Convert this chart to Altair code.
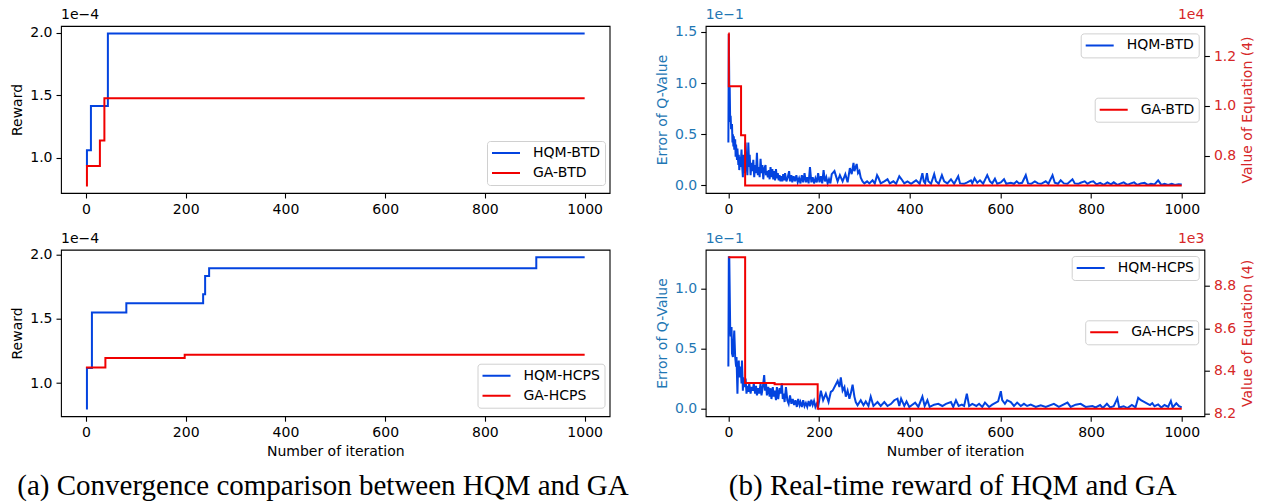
import altair as alt
import pandas as pd

BLUE = '#0343df'
RED = '#f00000'
TAB_BLUE = '#1f77b4'
TAB_RED = '#d62728'
FONT = 'DejaVu Sans'
SERIF = 'Liberation Serif'

ITER_TICKS = [0, 200, 400, 600, 800, 1000]
X_DOMAIN = [-50, 1050]

# ---------------- (a) Convergence comparison (reward, units 1e-4) ----------------
hqm_btd_iter = [0, 2, 10, 44, 1000]
hqm_btd_reward = [0.938, 1.059, 1.414, 1.995, 1.995]
ga_btd_iter = [0, 2, 28, 37, 1000]
ga_btd_reward = [0.777, 0.933, 1.137, 1.476, 1.476]

hqm_hcps_iter = [0, 2, 12, 81, 235, 239, 247, 903, 1000]
hqm_hcps_reward = [0.801, 1.116, 1.548, 1.620, 1.690, 1.832, 1.891, 1.977, 1.977]
ga_hcps_iter = [0, 39, 198, 1000]
ga_hcps_reward = [1.121, 1.194, 1.220, 1.220]

# ---------------- (b) Real-time reward ----------------
# GA value of Equation (4): top in units of 1e4, bottom in units of 1e3
ga_btd_eq_iter = [0, 1, 28, 37, 1000]
ga_btd_eq = [1.290, 1.079, 0.882, 0.681, 0.681]
ga_hcps_eq_iter = [0, 37, 102, 197, 1000]
ga_hcps_eq = [8.933, 8.343, 8.337, 8.223, 8.223]

# HQM error of Q-value (units of 1e-1): (iteration, value)
hqm_btd_err_pts = [
    (0, 0.42), (1, 1.48), (2, 0.97), (3, 0.95), (4, 0.62), (5, 0.68), (6, 0.55), (8, 0.60), (9, 0.42),
    (10, 0.50), (11, 0.38), (12, 0.48), (13, 0.35), (15, 0.45), (16, 0.28), (17, 0.40), (19, 0.25),
    (20, 0.36), (22, 0.20), (23, 0.30), (24, 0.15), (26, 0.28), (27, 0.18), (29, 0.35), (30, 0.22),
    (32, 0.08), (33, 0.30), (35, 0.12), (37, 0.25), (38, 0.42), (40, 0.20), (42, 0.10), (44, 0.42),
    (46, 0.18), (47, 0.30), (49, 0.10), (51, 0.22), (53, 0.14), (55, 0.25), (57, 0.08), (59, 0.20),
    (61, 0.12), (63, 0.32), (65, 0.10), (67, 0.18), (69, 0.08), (71, 0.26), (73, 0.12), (75, 0.20),
    (77, 0.06), (79, 0.16), (82, 0.20), (83, 0.10), (85, 0.14), (87, 0.08), (89, 0.15), (91, 0.06),
    (93, 0.18), (95, 0.08), (97, 0.16), (99, 0.06), (101, 0.14), (103, 0.05), (105, 0.16), (107, 0.07),
    (109, 0.12), (111, 0.05), (113, 0.10), (115, 0.04), (117, 0.09), (119, 0.04), (121, 0.11), (123, 0.05),
    (125, 0.12), (128, 0.04), (131, 0.08), (134, 0.14), (136, 0.04), (139, 0.10), (141, 0.03), (144, 0.09),
    (147, 0.04), (150, 0.10), (153, 0.03), (156, 0.07), (159, 0.02), (162, 0.10), (165, 0.03), (168, 0.12),
    (171, 0.03), (174, 0.08), (177, 0.02), (180, 0.18), (183, 0.03), (186, 0.08), (189, 0.02), (192, 0.07),
    (195, 0.03), (198, 0.12), (201, 0.03), (204, 0.09), (207, 0.02), (210, 0.15), (213, 0.04), (216, 0.08),
    (219, 0.02), (222, 0.06), (225, 0.02), (228, 0.11),
    (234, 0.14), (241, 0.04), (246, 0.10), (252, 0.04), (258, 0.11), (263, 0.03), (268, 0.17), (272, 0.11),
    (276, 0.22), (278, 0.14), (283, 0.21), (286, 0.12), (289, 0.14), (292, 0.075), (296, 0.04), (300, 0.02),
    (306, 0.04), (311, 0.02), (318, 0.05), (323, 0.02), (328, 0.10), (331, 0.075), (336, 0.02), (344, 0.04),
    (351, 0.06), (356, 0.02), (364, 0.04), (370, 0.016), (377, 0.09), (382, 0.06), (388, 0.02), (395, 0.04),
    (403, 0.016), (414, 0.05), (422, 0.016), (428, 0.12), (431, 0.04), (434, 0.02), (438, 0.12), (441, 0.04),
    (447, 0.016), (454, 0.11), (458, 0.04), (464, 0.016), (471, 0.10), (476, 0.04), (483, 0.02), (491, 0.06),
    (498, 0.016), (507, 0.09), (511, 0.02), (520, 0.016), (527, 0.03), (535, 0.05), (538, 0.02), (543, 0.07),
    (549, 0.026), (555, 0.05), (562, 0.016), (571, 0.10), (577, 0.04), (582, 0.02), (588, 0.065), (593, 0.016),
    (601, 0.03), (608, 0.06), (613, 0.016), (623, 0.026), (630, 0.016), (636, 0.04), (641, 0.02), (648, 0.026),
    (656, 0.10), (661, 0.02), (668, 0.016), (676, 0.04), (683, 0.02), (690, 0.016), (700, 0.04), (706, 0.016),
    (715, 0.10), (720, 0.026), (727, 0.016), (733, 0.05), (740, 0.02), (748, 0.016), (759, 0.06), (764, 0.02),
    (772, 0.016), (777, 0.026), (786, 0.04), (792, 0.016), (799, 0.035),
    (805, 0.04), (812, 0.01), (820, 0.025), (828, 0.005), (836, 0.03), (844, 0.01), (850, 0.03), (858, 0.005),
    (866, 0.02), (872, 0.03), (880, 0.005), (888, 0.02), (895, 0.03), (902, 0.005), (910, 0.02), (918, 0.025),
    (925, 0.005), (932, 0.015), (940, 0.01), (948, 0.05), (955, 0.005), (962, 0.015), (970, 0.005),
    (978, 0.015), (985, 0.005), (993, 0.012), (1000, 0.008),
]

hqm_hcps_err_pts = [
    (0, 0.35), (1, 1.26), (2, 1.26), (4, 0.68), (5, 0.60), (7, 0.68), (8, 0.46), (10, 0.43), (11, 0.51),
    (13, 0.65), (15, 0.43), (17, 0.35), (18, 0.43), (20, 0.125), (21, 0.29), (23, 0.40), (24, 0.26),
    (27, 0.35), (29, 0.21), (30, 0.40), (32, 0.15), (33, 0.26), (35, 0.18), (38, 0.25), (40, 0.125),
    (42, 0.19), (44, 0.14), (46, 0.21), (49, 0.125), (51, 0.18), (54, 0.15), (56, 0.21), (59, 0.125),
    (61, 0.19), (63, 0.11), (66, 0.17), (68, 0.125), (71, 0.21), (73, 0.11), (76, 0.18), (79, 0.28),
    (81, 0.15), (83, 0.21), (85, 0.11), (88, 0.18), (91, 0.10), (93, 0.17), (95, 0.08), (98, 0.18),
    (100, 0.10), (102, 0.15), (105, 0.07), (107, 0.18), (110, 0.08), (113, 0.17), (115, 0.125), (118, 0.21),
    (120, 0.08), (122, 0.125), (124, 0.055), (127, 0.18), (130, 0.07), (133, 0.04), (136, 0.11), (139, 0.04),
    (142, 0.08), (145, 0.03), (148, 0.07), (151, 0.014), (154, 0.08), (157, 0.03), (159, 0.055), (162, 0.014),
    (165, 0.07), (168, 0.02), (171, 0.047), (174, 0.014), (177, 0.064), (180, 0.02), (183, 0.075), (186, 0.03),
    (189, 0.064), (192, 0.014), (195, 0.04), (198, 0.014), (204, 0.15), (209, 0.07), (215, 0.125), (221, 0.055),
    (226, 0.14),
    (230, 0.15), (241, 0.23), (245, 0.18), (248, 0.26), (252, 0.15), (256, 0.18), (259, 0.10), (263, 0.15),
    (267, 0.083), (270, 0.125), (274, 0.20), (278, 0.10), (281, 0.055), (285, 0.028), (292, 0.07), (298, 0.028),
    (303, 0.06), (309, 0.022), (314, 0.10), (320, 0.022), (329, 0.055), (336, 0.022), (344, 0.055), (351, 0.022),
    (359, 0.04), (366, 0.07), (373, 0.083), (377, 0.022), (381, 0.083), (388, 0.022), (393, 0.06), (399, 0.014),
    (412, 0.05), (419, 0.014), (428, 0.10), (433, 0.022), (439, 0.07), (444, 0.014), (454, 0.033), (463, 0.04),
    (472, 0.022), (480, 0.04), (491, 0.055), (496, 0.014), (502, 0.07), (508, 0.022), (515, 0.033), (520, 0.022),
    (526, 0.125), (531, 0.022), (538, 0.04), (547, 0.022), (553, 0.04), (560, 0.014), (566, 0.05), (575, 0.014),
    (582, 0.033), (590, 0.05), (595, 0.06), (601, 0.145), (604, 0.07), (610, 0.04), (615, 0.07), (623, 0.055),
    (630, 0.022), (637, 0.05), (645, 0.022), (652, 0.04), (659, 0.022), (667, 0.033), (678, 0.014), (689, 0.028),
    (700, 0.014), (718, 0.04), (729, 0.014), (748, 0.05), (755, 0.014), (766, 0.033), (777, 0.04), (788, 0.014),
    (803, 0.022),
    (810, 0.01), (820, 0.03), (826, 0.005), (835, 0.04), (842, 0.01), (850, 0.02), (858, 0.085), (862, 0.01),
    (872, 0.02), (880, 0.005), (890, 0.03), (898, 0.01), (904, 0.09), (910, 0.07), (915, 0.06), (920, 0.05),
    (925, 0.04), (930, 0.03), (935, 0.045), (940, 0.02), (948, 0.035), (955, 0.01), (962, 0.03), (970, 0.015),
    (976, 0.065), (980, 0.01), (988, 0.045), (994, 0.02), (1000, 0.01),
]

# ---------------- layout (pixels) ----------------
LW, RW = 548.6, 498.7
H1, H2 = 167, 166.5


def legend(lx, ly):
    return alt.Legend(
        title=None, orient='none', legendX=lx, legendY=ly, direction='vertical',
        symbolType='stroke', symbolSize=784, symbolStrokeWidth=2, clipHeight=16,
        labelFont=FONT, labelFontSize=14, labelColor='black', labelOffset=12,
        padding=4, rowPadding=4, fillColor='white', strokeColor='#d0d0d0', cornerRadius=3,
    )


def note(text, x, y, color='black', align='left', size=14, font=FONT):
    return alt.Chart(alt.Data(values=[{}])).mark_text(
        text=text, align=align, baseline='alphabetic', fontSize=size, font=font, color=color
    ).encode(x=alt.value(x), y=alt.value(y))


def x_enc(title):
    return alt.X('iter:Q', scale=alt.Scale(domain=X_DOMAIN, nice=False, zero=False),
                 axis=alt.Axis(values=ITER_TICKS, format='d', title=title))


def left_panel(names, iters, vals, ydom, width, height, leg, xtitle, offset_y, extra=None):
    rows = []
    for n, xs, ys in zip(names, iters, vals):
        rows += [{'series': n, 'iter': x, 'reward': y} for x, y in zip(xs, ys)]
    df = pd.DataFrame(rows)
    lines = alt.Chart(df).mark_line(interpolate='step-after', strokeWidth=2).encode(
        x=x_enc(xtitle),
        y=alt.Y('reward:Q', scale=alt.Scale(domain=ydom, nice=False, zero=False),
                axis=alt.Axis(values=[1.0, 1.5, 2.0], format='.1f', title='Reward')),
        color=alt.Color('series:N', scale=alt.Scale(domain=names, range=[BLUE, RED]),
                        legend=legend(*leg)),
    )
    layers = [lines, note('1e\u22124', 0, offset_y)]
    if extra:
        layers += extra
    return alt.layer(*layers).properties(width=width, height=height)


def right_panel(bname, bpts, rname, rit, rval, ldom, lvals, rdom, rvals, width, height,
                leg1, leg2, xtitle, rexp, offset_y, extra=None):
    dfb = pd.DataFrame({'iter': [p[0] for p in bpts], 'val': [p[1] for p in bpts], 'series': bname})
    dfr = pd.DataFrame({'iter': rit, 'val': rval, 'series': rname})
    blue = alt.Chart(dfb).mark_line(strokeWidth=2).encode(
        x=x_enc(xtitle),
        y=alt.Y('val:Q', scale=alt.Scale(domain=ldom, nice=False, zero=False),
                axis=alt.Axis(values=lvals, format='.1f', title='Error of Q-Value',
                              labelColor=TAB_BLUE, titleColor=TAB_BLUE)),
        color=alt.Color('series:N', scale=alt.Scale(domain=[bname], range=[BLUE]), legend=legend(*leg1)),
    )
    red = alt.Chart(dfr).mark_line(interpolate='step-after', strokeWidth=2).encode(
        x=x_enc(xtitle),
        y=alt.Y('val:Q', scale=alt.Scale(domain=rdom, nice=False, zero=False),
                axis=alt.Axis(values=rvals, format='.1f', title='Value of Equation (4)', orient='right',
                              labelColor=TAB_RED, titleColor=TAB_RED, titleAngle=270,
                              titleBaseline='top')),
        color=alt.Color('series:N', scale=alt.Scale(domain=[rname], range=[RED]), legend=legend(*leg2)),
    )
    layers = [blue, red,
              note('1e\u22121', 0, offset_y, color=TAB_BLUE),
              note(rexp, width, offset_y, color=TAB_RED, align='right')]
    if extra:
        layers += extra
    return alt.layer(*layers).resolve_scale(y='independent', color='independent').properties(
        width=width, height=height)


anchor = alt.Chart(alt.Data(values=[{}])).mark_point(opacity=0, size=1, filled=True).encode(
    x=alt.value(-59), y=alt.value(-24))

tl = left_panel(['HQM-BTD', 'GA-BTD'], [hqm_btd_iter, ga_btd_iter], [hqm_btd_reward, ga_btd_reward],
                [0.716, 2.056], LW, H1, (426, 115), None, -7.3, extra=[anchor])
bl = left_panel(['HQM-HCPS', 'GA-HCPS'], [hqm_hcps_iter, ga_hcps_iter], [hqm_hcps_reward, ga_hcps_reward],
                [0.742, 2.036], LW, H2, (416.5, 114), 'Number of iteration', -6.7,
                extra=[note('(a) Convergence comparison between HQM and GA', 262, 245.3,
                            align='center', size=29, font=SERIF)])
tr = right_panel('HQM-BTD', hqm_btd_err_pts, 'GA-BTD', ga_btd_eq_iter, ga_btd_eq,
                 [-0.074, 1.558], [0.0, 0.5, 1.0, 1.5], [0.6505, 1.3205], [0.8, 1.0, 1.2],
                 RW, H1, (375, 7.4), (389, 71.7), None, '1e4', -6.6)
br = right_panel('HQM-HCPS', hqm_hcps_err_pts, 'GA-HCPS', ga_hcps_eq_iter, ga_hcps_eq,
                 [-0.063, 1.323], [0.0, 0.5, 1.0], [8.1875, 8.9685], [8.2, 8.4, 8.6, 8.8],
                 RW, H2, (366, 6.3), (379.5, 70.6), 'Number of iteration', '1e3', -6.7,
                 extra=[note('(b) Real-time reward of HQM and GA', 247, 245.3,
                             align='center', size=29, font=SERIF)])

chart = alt.concat(
    tl, tr, bl, br, columns=2, spacing={'row': 56.7, 'column': 95.7}, bounds='flush', align='each'
).resolve_scale(
    color='independent'
).properties(
    padding={'left': 0, 'top': 0, 'right': 0, 'bottom': 0}
).configure(
    background='white'
).configure_view(
    stroke='black', strokeWidth=1.1
).configure_axis(
    labelFont=FONT, labelFontSize=14, titleFont=FONT, titleFontSize=14, titleFontWeight='normal',
    tickSize=5, tickWidth=1.1, tickColor='black', labelColor='black', titleColor='black',
    domain=False, grid=False, labelPadding=4, titlePadding=5, labelFlush=False, labelOverlap=False,
)

chart.save('out.html', embed_options={'renderer': 'svg', 'actions': False})
